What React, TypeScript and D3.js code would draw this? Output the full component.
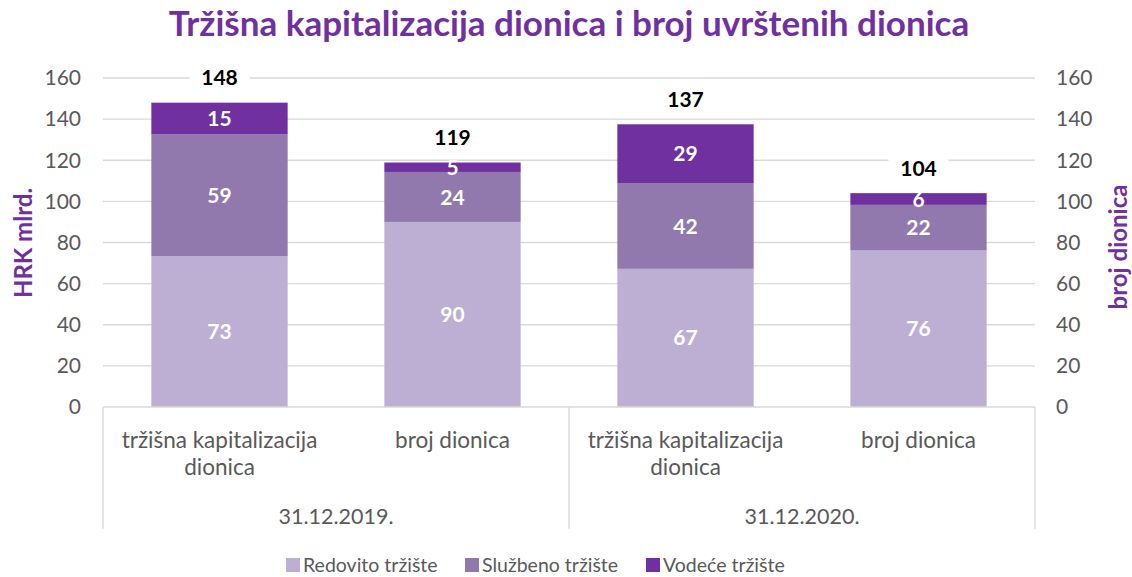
import React from "react";
import * as d3 from "d3";

const groups = ["31.12.2019.", "31.12.2020."];
const categories = ["tržišna kapitalizacija dionica", "broj dionica", "tržišna kapitalizacija dionica", "broj dionica"];
const seriesNames = ["Redovito tržište", "Službeno tržište", "Vodeće tržište"];
const redovito = [73.4, 90.0, 67.2, 76.1];
const sluzbeno = [59.3, 24.3, 41.7, 22.2];
const vodece = [15.3, 4.6, 28.6, 5.7];
const totals = [148, 119, 137, 104];
const yTicks = [0, 20, 40, 60, 80, 100, 120, 140, 160];
const colors = ["#BDAFD3", "#9179AD", "#7030A0"];

const W = 1132, H = 577;
const left = 103, right = 1035, top = 78, bottom = 407;
const FONT = "Lato, 'Open Sans', sans-serif";

export default function App() {
  const x = d3.scaleBand<number>().domain(d3.range(categories.length)).range([left, right]).paddingInner(0.415).paddingOuter(0.2075);
  const y = d3.scaleLinear().domain([0, 160]).range([bottom, top]);
  const rows = categories.map((c, i) => ({ i, r: redovito[i], s: sluzbeno[i], v: vodece[i] }));
  const stack = d3.stack<any>().keys(["r", "s", "v"])(rows);
  const step = (right - left) / categories.length;
  const textColor = "#595959";
  const purple = "#7030A0";

  return (
    <svg width={W} height={H} style={{ display: "block", position: "absolute", left: 0, top: 0 }} fontFamily={FONT}>
      <rect width={W} height={H} fill="#fff" />
      <text x={569} y={36} textAnchor="middle" fontSize={35} fontWeight="bold" fill={purple}>
        Tržišna kapitalizacija dionica i broj uvrštenih dionica
      </text>
      {yTicks.map((t) => (
        <g key={t}>
          {t > 0 && <line x1={left} x2={right} y1={y(t)} y2={y(t)} stroke="#D9D9D9" strokeWidth={1.3} />}
          <text x={81} y={y(t)} dy="0.35em" textAnchor="end" fontSize={21} fill={textColor}>{t}</text>
          <text x={1056} y={y(t)} dy="0.35em" textAnchor="start" fontSize={21} fill={textColor}>{t}</text>
        </g>
      ))}
      <text transform={`translate(32,243) rotate(-90)`} textAnchor="middle" fontSize={24} fontWeight="bold" fill={purple}>HRK mlrd.</text>
      <text transform={`translate(1127,247) rotate(-90)`} textAnchor="middle" fontSize={24} fontWeight="bold" fill={purple}>broj dionica</text>
      {stack.map((layer, li) =>
        layer.map((d, i) => {
          const x0 = x(i)!;
          const y0 = y(d[1]);
          const h = y(d[0]) - y(d[1]);
          const val = d[1] - d[0];
          return (
            <g key={`${li}-${i}`}>
              <rect x={x0} y={y0} width={x.bandwidth()} height={h} fill={colors[li]} />
              <text x={x0 + x.bandwidth() / 2} y={y0 + h / 2} dy="0.36em" textAnchor="middle" fontSize={21} fontWeight="bold" fill="#fff">
                {Math.round(val)}
              </text>
            </g>
          );
        })
      )}
      {totals.map((t, i) => {
        const cx = x(i)! + x.bandwidth() / 2;
        const ty = y(redovito[i] + sluzbeno[i] + vodece[i]) - 25;
        return (
          <g key={`t${i}`}>
            <rect x={cx - 30} y={ty - 12} width={60} height={24} fill="#fff" />
            <text x={cx} y={ty} dy="0.36em" textAnchor="middle" fontSize={21} fontWeight="bold" fill="#000">{t}</text>
          </g>
        );
      })}
      <line x1={left} x2={right} y1={bottom} y2={bottom} stroke="#D9D9D9" strokeWidth={1.3} />
      {[0, 1, 2].map((k) => (
        <line key={k} x1={left + k * step * 2} x2={left + k * step * 2} y1={bottom} y2={529} stroke="#D9D9D9" strokeWidth={1.3} />
      ))}
      {categories.map((c, i) => {
        const cx = x(i)! + x.bandwidth() / 2;
        const lines = c === "tržišna kapitalizacija dionica" ? ["tržišna kapitalizacija", "dionica"] : [c];
        return (
          <text key={`c${i}`} x={cx} y={440} textAnchor="middle" fontSize={22.5} fill={textColor}>
            {lines.map((l, j) => (
              <tspan key={j} x={cx} y={440 + j * 27} dy="0.35em">{l}</tspan>
            ))}
          </text>
        );
      })}
      {groups.map((g, k) => (
        <text key={g} x={left + step * (2 * k + 1)} y={516} dy="0.35em" textAnchor="middle" fontSize={21.5} fill={textColor}>{g}</text>
      ))}
      {seriesNames.map((s, i) => {
        const lx = [286, 465, 646][i];
        return (
          <g key={s}>
            <rect x={lx} y={558} width={14} height={14} fill={colors[i]} />
            <text x={lx + 17} y={565} dy="0.36em" fontSize={19.5} fill={textColor}>{s}</text>
          </g>
        );
      })}
    </svg>
  );
}
